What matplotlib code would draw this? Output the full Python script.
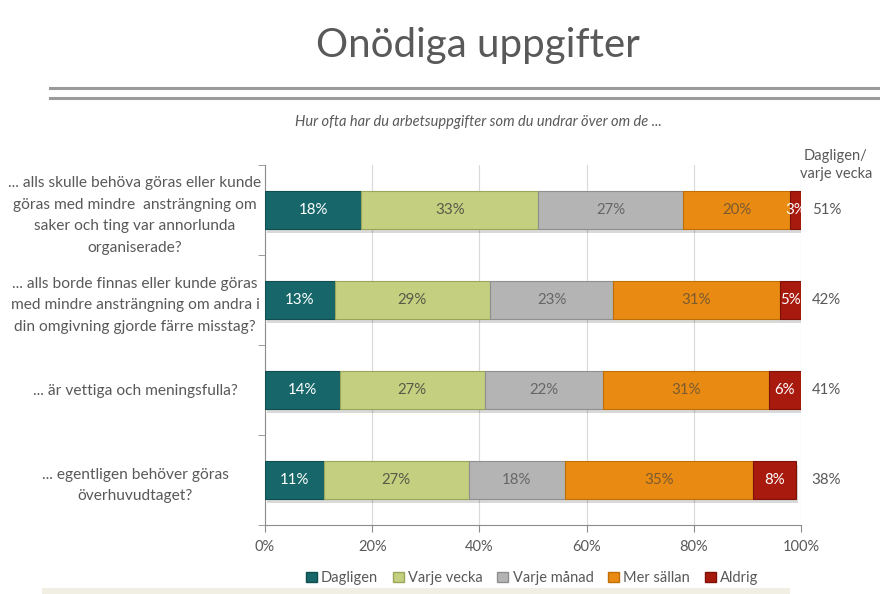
import numpy as np
import matplotlib
matplotlib.use("Agg")
import matplotlib.pyplot as plt
from matplotlib.lines import Line2D
from matplotlib.patches import Rectangle

plt.rcParams['font.family'] = ['Lato', 'DejaVu Sans']

# --- data ---
questions = [
    "... alls skulle behöva göras eller kunde\ngöras med mindre  ansträngning om\nsaker och ting var annorlunda\norganiserade?",
    "... alls borde finnas eller kunde göras\nmed mindre ansträngning om andra i\ndin omgivning gjorde färre misstag?",
    "... är vettiga och meningsfulla?",
    "... egentligen behöver göras\növerhuvudtaget?",
]
series = ["Dagligen", "Varje vecka", "Varje månad", "Mer sällan", "Aldrig"]
dagligen = [18, 13, 14, 11]
varje_vecka = [33, 29, 27, 27]
varje_manad = [27, 23, 22, 18]
mer_sallan = [20, 31, 31, 35]
aldrig = [3, 5, 6, 8]
xticks = [0, 20, 40, 60, 80, 100]

colors = ["#17676a", "#c4cf7f", "#b4b4b4", "#e98b12", "#a81a0e"]
edge_colors = ["#0f4d4f", "#9aa65a", "#8f8f8f", "#c06f08", "#7d1208"]
text_colors = ["white", "#5a5a4a", "#666666", "#7a5a30", "white"]
grey = "#595959"

values = np.array([dagligen, varje_vecka, varje_manad, mer_sallan, aldrig])
weekly = values[0] + values[1]

fig = plt.figure(figsize=(8.8, 5.94), dpi=100)
ax = fig.add_axes([265 / 880, 1 - 525 / 594, 536 / 880, 360 / 594])

y = np.arange(len(questions))
left = np.zeros(len(questions))
for i, name in enumerate(series):
    vals = values[i]
    widths = np.minimum(vals, 100 - left)
    # soft shadow under the bar
    ax.barh(y + 0.045, widths, left=left + 0.4, height=0.42, color="#000000",
            alpha=0.15, zorder=2, linewidth=0)
    ax.barh(y, widths, left=left, height=0.42, color=colors[i],
            edgecolor=edge_colors[i], linewidth=0.8, zorder=3, label=name)
    for j in range(len(questions)):
        ax.text(left[j] + widths[j] / 2, y[j], f"{vals[j]}%", ha="center",
                va="center", fontsize=10.8, color=text_colors[i], zorder=4)
    left = left + widths

for j in range(len(questions)):
    ax.text(102, y[j], f"{weekly[j]}%", ha="left", va="center",
            fontsize=10.8, color=grey, clip_on=False)
ax.text(106.5, -0.5, "Dagligen/\nvarje vecka", ha="center", va="center",
        fontsize=10.5, color=grey, linespacing=1.3, clip_on=False)

ax.set_xlim(0, 100)
ax.set_ylim(len(questions) - 0.5, -0.5)
ax.set_xticks(xticks)
ax.set_xticklabels([f"{t}%" for t in xticks], fontsize=10.5, color=grey)
ax.set_yticks(y)
ax.set_yticklabels(questions, fontsize=11.2, color=grey, multialignment="center",
                   linespacing=1.7)
ax.set_yticks(np.arange(-0.5, len(questions)), minor=True)
ax.tick_params(axis="y", which="major", length=0, pad=0)
for lbl in ax.get_yticklabels():
    lbl.set_horizontalalignment("center")
    lbl.set_x(-0.2425)
ax.tick_params(axis="y", which="minor", length=5, color="#8c8c8c")
ax.tick_params(axis="x", length=5, color="#8c8c8c", pad=6)

ax.grid(axis="x", color="#d9d9d9", linewidth=0.8, zorder=0)
ax.set_axisbelow(True)
for s in ["top", "right"]:
    ax.spines[s].set_visible(False)
ax.spines["left"].set_color("#8c8c8c")
ax.spines["bottom"].set_color("#8c8c8c")

# legend
handles = [Rectangle((0, 0), 1, 1, facecolor=colors[i], edgecolor=edge_colors[i])
           for i in range(len(series))]
fig.legend(handles, series, loc="center", bbox_to_anchor=(532 / 880, 1 - 578 / 594),
           ncol=5, frameon=False, fontsize=10.5, handlelength=0.75, handleheight=0.75,
           handletextpad=0.3, columnspacing=1.0, labelcolor=grey)

# title, subtitle and decorative lines
fig.text(478 / 880, 1 - 45 / 594, "Onödiga uppgifter", ha="center", va="center",
         fontsize=29, color=grey)
fig.text(478 / 880, 1 - 122 / 594, "Hur ofta har du arbetsuppgifter som du undrar över om de ...",
         ha="center", va="center", fontsize=10.5, color=grey, style="italic")
for yy in [88, 98]:
    fig.add_artist(Line2D([50 / 880, 1], [1 - yy / 594] * 2, color="#9a9a9a",
                          linewidth=2.2, transform=fig.transFigure))
fig.add_artist(Rectangle((42 / 880, 0), 748 / 880, 6 / 594, facecolor="#f1efe4",
                         edgecolor="none", transform=fig.transFigure))

fig.savefig("out.png", dpi=100)
